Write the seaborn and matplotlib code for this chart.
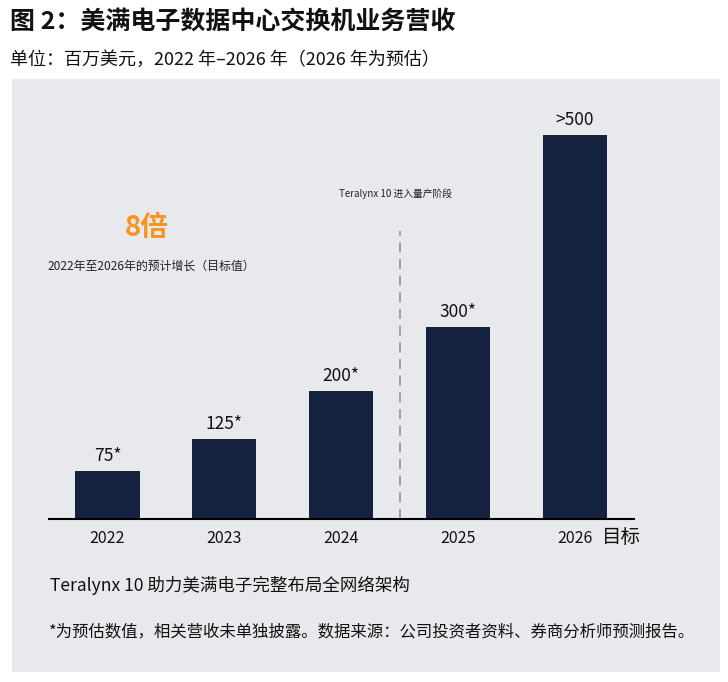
import matplotlib
matplotlib.use("Agg")
import matplotlib.pyplot as plt
import seaborn as sns
import pandas as pd
from matplotlib.patches import Rectangle

# 数据
years = ["2022", "2023", "2024", "2025", "2026"]
revenue = [75, 125, 200, 300, 600]          # 2026 柱高按图中比例估计
value_labels = ["75*", "125*", "200*", "300*", ">500"]

sns.set_theme(style="white")
plt.rcParams['font.family'] = ['Noto Sans CJK SC', 'DejaVu Sans']

bg = "#E8E9ED"
navy = "#14223F"
orange = "#F7931E"

fig = plt.figure(figsize=(7.28, 6.82), dpi=100)
fig.patch.set_facecolor("white")

# 灰色面板
fig.patches.append(Rectangle((12 / 728, 1 - 672 / 682), 708 / 728, 593 / 682,
                             transform=fig.transFigure, facecolor=bg,
                             edgecolor="none", zorder=-1))

ax = fig.add_axes([49 / 728, 1 - 519 / 682, 584.5 / 728, 397 / 682])
ax.set_facecolor("none")
ax.set_zorder(2)

df = pd.DataFrame({"year": years, "revenue": revenue})
sns.barplot(data=df, x="year", y="revenue", color=navy, width=0.55,
            saturation=1, linewidth=0, ax=ax)

ax.set_xlim(-0.5, 4.5)
ax.set_ylim(0, 620)
ax.set_xlabel("")
ax.set_ylabel("")
ax.set_yticks([])
for s in ["top", "right", "left"]:
    ax.spines[s].set_visible(False)
ax.spines["bottom"].set_color("black")
ax.spines["bottom"].set_linewidth(1.5)
ax.tick_params(axis="x", length=0, pad=8, labelsize=11.5, colors="#111111")

# “目标”字样
ax.annotate("目标", (4, 0), xytext=(19.5, -13), textcoords="offset points",
            ha="left", va="center", fontsize=14, color="#111111",
            annotation_clip=False)

# 柱顶数值
for i, (v, lab) in enumerate(zip(revenue, value_labels)):
    ax.annotate(lab, (i, v), xytext=(0, 4), textcoords="offset points",
                ha="center", va="bottom", fontsize=12.5, color="#111111")

# 虚线分隔
ax.plot([2.5, 2.5], [0, 450], ls=(0, (6, 4)), color="#8F949C", lw=1.2)

ax.text(1.985, 508, "Teralynx 10 进入量产阶段", fontsize=7, color="#222222",
        ha="left", va="center")

ax.text(0.34, 454, "8倍", fontsize=20, fontweight="bold", color=orange,
        ha="center", va="center")
ax.text(-0.51, 395, "2022年至2026年的预计增长（目标值）", fontsize=8.6,
        color="#222222", ha="left", va="center")

# 标题和注释
fig.text(10 / 728, 1 - 22 / 682, "图 2：美满电子数据中心交换机业务营收",
         fontsize=18, fontweight="bold", color="#111111", ha="left", va="center")
fig.text(10 / 728, 1 - 60 / 682, "单位：百万美元，2022 年–2026 年（2026 年为预估）",
         fontsize=13, color="#111111", ha="left", va="center")
fig.text(50 / 728, 1 - 585 / 682, "Teralynx 10 助力美满电子完整布局全网络架构",
         fontsize=12.6, color="#111111", ha="left", va="center")
fig.text(49 / 728, 1 - 632 / 682,
         "*为预估数值，相关营收未单独披露。数据来源：公司投资者资料、券商分析师预测报告。",
         fontsize=11.8, color="#111111", ha="left", va="center")

fig.savefig("out.png", dpi=100, facecolor="white")
